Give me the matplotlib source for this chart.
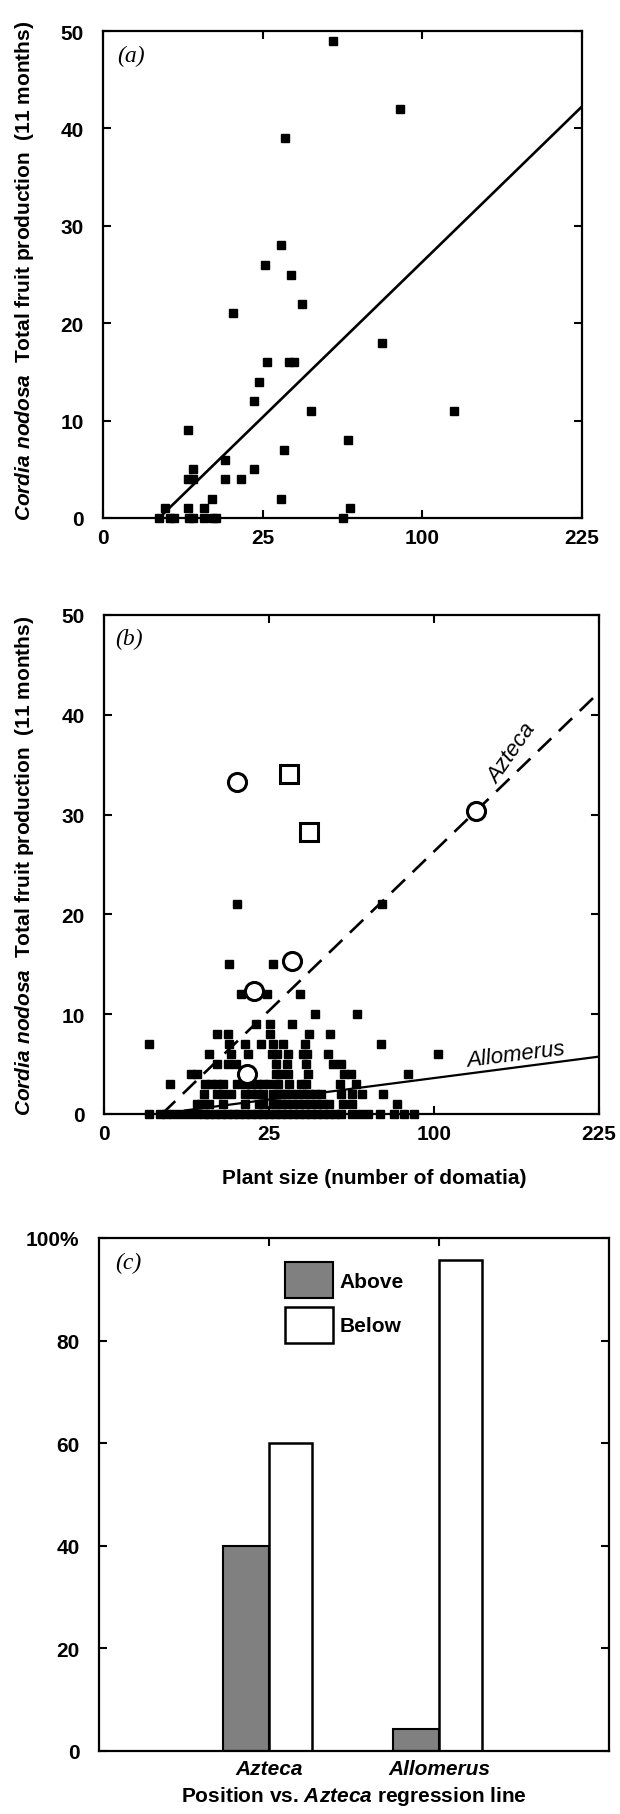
import numpy as np
import matplotlib
matplotlib.use("Agg")
import matplotlib.pyplot as plt

plt.rcParams["font.family"] = ["Liberation Sans", "DejaVu Sans"]
plt.rcParams["font.weight"] = "bold"
plt.rcParams["axes.labelweight"] = "bold"
plt.rcParams["mathtext.fontset"] = "custom"
plt.rcParams["mathtext.rm"] = "Liberation Sans:bold"
plt.rcParams["mathtext.it"] = "Liberation Sans:italic:bold"
plt.rcParams["mathtext.bf"] = "Liberation Sans:bold"

# (a) plants with Azteca: plant size (domatia) vs. total fruit production
a_size = [52, 86.6, 32.6, 30.9, 25.6, 34.7, 38.9, 16.6, 76.3, 26.5, 34, 35.9,
          24, 22.3, 42.4, 121, 7.1, 58.8, 32, 14.5, 7.9, 22.3, 7.1, 7.9,
          14.5, 18.6, 11.6, 31.2, 7.1, 10, 60, 3.8,
          3.1, 4.4, 4.9, 7.2, 7.9, 10, 11.9, 12.6, 56.3]
a_fruit = [49, 42, 39, 28, 26, 25, 22, 21, 18, 16, 16, 16,
           14, 12, 11, 11, 9, 8, 7, 6, 5, 5, 4, 4,
           4, 4, 2, 2, 1, 1, 1, 1,
           0, 0, 0, 0, 0, 0, 0, 0, 0]

# (b) plants with Allomerus (small squares)
b_size = [16.2, 71, 14.3, 26.1, 17.2, 24.4, 35.4, 40.7, 58.8,
          21.3, 25.4, 32.5,
          11.8, 14.2, 25.4, 38.5, 46.8,
          1.9, 14.4, 18.3, 22.7, 26.2, 29.5, 37, 70.7,
          10.2, 14.9, 19.1, 26, 27.5, 31.1, 36.3, 37.7, 46, 102.4,
          11.8, 14.2, 16.1, 27.1, 30.7, 37.3, 48, 51.7,
          7.0, 8.0, 27.2, 28.5, 31.1, 38.2, 53.1, 55.8, 85,
          3.95, 9.4, 10.6, 11.8, 13.1, 16.3, 18.3, 19.9, 21.5, 23.2, 25,
          27.8, 31.4, 35.6, 37.3, 51, 58.2,
          9.1, 11.8, 13.1, 14.9, 18.3, 19.9, 21.5, 23.2, 26.2, 27.5, 28.7,
          30.1, 32.1, 34.1, 36.3, 38.5, 40.8, 43.1, 51.7, 56.3, 61.3, 71.7,
          8.0, 8.7, 9.4, 10.2, 13.1, 18.3, 22.1, 23.2, 26.2, 27.5, 29,
          30.7, 32.8, 34.8, 37, 39.2, 41.5, 43.9, 46.3, 52.3, 56.7, 79,
          1.9, 2.85, 3.5, 4.4, 5.5, 6.7, 8.0, 9.1, 10.2, 11.4, 12.6, 13.9,
          15.3, 16.8, 18.3, 19.9, 21.5, 23.2, 25, 26.8, 28.7, 30.7, 32.8,
          34.8, 37, 39.2, 41.5, 43.9, 46.3, 48.8, 51.4, 56.7, 60.4, 64.2,
          70.1, 77.4, 82.7, 88.3]
b_fruit = [21, 21, 15, 15, 12, 12, 12, 10, 10,
           9, 9, 9,
           8, 8, 8, 8, 8,
           7, 7, 7, 7, 7, 7, 7, 7,
           6, 6, 6, 6, 6, 6, 6, 6, 6, 6,
           5, 5, 5, 5, 5, 5, 5, 5,
           4, 4, 4, 4, 4, 4, 4, 4, 4,
           3, 3, 3, 3, 3, 3, 3, 3, 3, 3, 3,
           3, 3, 3, 3, 3, 3,
           2, 2, 2, 2, 2, 2, 2, 2, 2, 2, 2,
           2, 2, 2, 2, 2, 2, 2, 2, 2, 2, 2,
           1, 1, 1, 1, 1, 1, 1, 1, 1, 1, 1,
           1, 1, 1, 1, 1, 1, 1, 1, 1, 1, 1,
           0, 0, 0, 0, 0, 0, 0, 0, 0, 0, 0, 0,
           0, 0, 0, 0, 0, 0, 0, 0, 0, 0, 0,
           0, 0, 0, 0, 0, 0, 0, 0, 0, 0, 0,
           0, 0, 0, 0]

# (b) highlighted plants: open circles and open squares
circ_size = [16.2, 127, 32.6, 20.6, 18.8]
circ_fruit = [33.3, 30.4, 15.3, 12.3, 4.0]
sq_size = [31.4, 38.6]
sq_fruit = [34.1, 28.3]

# regressions on sqrt(plant size): fruit = intercept + slope * sqrt(size)
azteca_fit = (-5.6, 3.19)
allomerus_fit = (-0.7, 0.43)

# (c) percentage of plants above / below the Azteca regression line
c_groups = ["Azteca", "Allomerus"]
c_above = [40, 4.35]
c_below = [60, 95.65]

xticks = [0, 25, 100, 225]
FS = 15


def fwd(x):
    return np.sqrt(np.clip(x, 0, None))


def inv(x):
    return np.square(x)


def fit_line(fit, x0, x1=225):
    x = np.linspace(x0, x1, 300)
    return x, fit[0] + fit[1] * np.sqrt(x)


def style_axes(ax):
    for s in ax.spines.values():
        s.set_linewidth(1.6)
    ax.tick_params(direction="in", length=6, width=1.5, top=True, right=True,
                   labelsize=FS)
    ax.tick_params(axis="y", pad=14)
    ax.tick_params(axis="x", pad=7)


def scatter_frame(ax):
    ax.set_xscale("function", functions=(fwd, inv))
    ax.set_xlim(0, 225)
    ax.set_ylim(0, 50)
    ax.set_xticks(xticks)
    ax.set_xticklabels([str(t) for t in xticks])
    ax.set_yticks(range(0, 51, 10))
    style_axes(ax)


def panel_tag(ax, letter, x, y):
    ax.text(x, y, "(%s)" % letter, transform=ax.transAxes,
            family="Liberation Serif", style="italic", fontsize=17,
            fontweight="normal", ha="center", va="center")


ylab = r"$\mathit{Cordia\ nodosa}$  Total fruit production  (11 months)"

fig = plt.figure(figsize=(6.2, 18.15), dpi=100)

# ---- (a)
ax1 = fig.add_axes([103 / 620, 1 - 519 / 1815, 479 / 620, 487 / 1815])
scatter_frame(ax1)
ax1.plot(a_size, a_fruit, "s", color="black", ms=5.5, clip_on=False, zorder=3)
lx, ly = fit_line(azteca_fit, inv(-azteca_fit[0] / azteca_fit[1]))
ax1.plot(lx, ly, color="black", lw=1.9)
ax1.set_ylabel(ylab, fontsize=FS)
ax1.yaxis.set_label_coords(-0.14, 0.51)
panel_tag(ax1, "a", 0.058, 0.949)

# ---- (b)
ax2 = fig.add_axes([104 / 620, 1 - 1115 / 1815, 495 / 620, 499 / 1815])
scatter_frame(ax2)
ax2.plot(b_size, b_fruit, "s", color="black", ms=5.5, clip_on=False, zorder=3)
ax2.plot(circ_size, circ_fruit, "o", ms=13, mfc="white", mec="black",
         mew=2.2, zorder=4)
ax2.plot(sq_size, sq_fruit, "s", ms=13, mfc="white", mec="black",
         mew=2.2, zorder=4)
lx, ly = fit_line(azteca_fit, inv(-azteca_fit[0] / azteca_fit[1]))
ax2.plot(lx, ly, color="black", lw=1.9, linestyle=(0, (7, 4)))
lx, ly = fit_line(allomerus_fit, 6)
ax2.plot(lx, ly, color="black", lw=1.6)
ax2.text(0.824, 0.723, "Azteca", style="italic", fontweight="normal",
         fontsize=16, rotation=55, transform=ax2.transAxes,
         ha="center", va="center")
ax2.text(0.832, 0.12, "Allomerus", style="italic", fontweight="normal",
         fontsize=16, rotation=7, transform=ax2.transAxes,
         ha="center", va="center")
ax2.set_ylabel(ylab, fontsize=FS)
ax2.yaxis.set_label_coords(-0.137, 0.5)
ax2.set_xlabel("Plant size (number of domatia)", fontsize=FS)
ax2.xaxis.set_label_coords(0.545, -0.108)
panel_tag(ax2, "b", 0.05, 0.954)

# ---- (c)
ax3 = fig.add_axes([99 / 620, 1 - 1752 / 1815, 510 / 620, 513 / 1815])
pos = np.arange(1, len(c_groups) + 1)
ax3.bar(pos, c_above, width=-0.27, align="edge", color="#808080",
        edgecolor="black", linewidth=1.5, label="Above")
ax3.bar(pos, c_below, width=0.25, align="edge", color="white",
        edgecolor="black", linewidth=1.8, label="Below")
ax3.set_xlim(0, 3)
ax3.set_ylim(0, 100)
ax3.set_xticks(pos)
ax3.set_xticklabels(c_groups, style="italic")
ax3.set_yticks(range(0, 101, 20))
ax3.set_yticklabels(["0", "20", "40", "60", "80", "100%"])
style_axes(ax3)
ax3.tick_params(axis="x", bottom=False, pad=6)
ax3.set_xlabel(r"Position vs. $\mathit{Azteca}$ regression line", fontsize=FS)
ax3.xaxis.set_label_coords(0.5, -0.064)
ax3.legend(loc="upper left", bbox_to_anchor=(0.365, 0.953), frameon=False,
           fontsize=FS, handlelength=2.3, handleheight=2.3, borderpad=0,
           borderaxespad=0, labelspacing=0.4, handletextpad=0.3)
panel_tag(ax3, "c", 0.057, 0.953)

fig.savefig("out.png", dpi=100)
